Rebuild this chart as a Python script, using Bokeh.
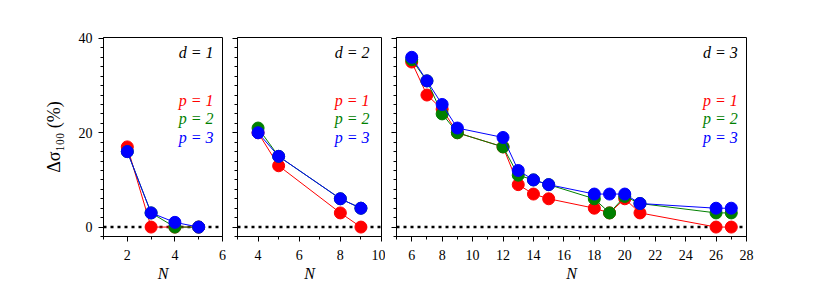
from bokeh.plotting import figure
from bokeh.layouts import row
from bokeh.models import Span, Label, SingleIntervalTicker, Range1d
from bokeh.embed import file_html
from bokeh.resources import INLINE

# ---- data ----
N1 = [2, 3, 4, 5]
d1_p1 = [17, 0, 0, 0]
d1_p2 = [16, 3, 0, 0]
d1_p3 = [16, 3, 1, 0]

N2 = [4, 5, 8, 9]
d2_p1 = [20, 13, 3, 0]
d2_p2 = [21, 15, 6, 4]
d2_p3 = [20, 15, 6, 4]

N3 = [6, 7, 8, 9, 12, 13, 14, 15, 18, 19, 20, 21, 26, 27]
d3_p1 = [35, 28, 25, 20, 17, 9, 7, 6, 4, 3, 6, 3, 0, 0]
d3_p2 = [35.5, 31, 24, 20, 17, 11, 10, 9, 6, 3, 6.5, 5, 3, 3]
d3_p3 = [36, 31, 26, 21, 19, 12, 10, 9, 7, 7, 7, 5, 4, 4]

series_labels = ["p = 1", "p = 2", "p = 3"]
panel_labels = ["d = 1", "d = 2", "d = 3"]
colors = ["#ff0000", "#008000", "#0000ff"]

FONT = "Liberation Serif"
H = 285
TOP = 37
FRAME_H = 199


def make_panel(N, ys, xr, dlabel, width, left, right, label_x, first):
    p = figure(width=width, height=H, x_range=Range1d(*xr), y_range=Range1d(-2, 40.2),
               output_backend="svg", toolbar_location=None,
               min_border_left=left, min_border_right=right,
               min_border_top=TOP, min_border_bottom=H - TOP - FRAME_H)
    p.background_fill_color = "white"
    p.border_fill_color = "white"
    p.outline_line_color = "black"
    p.outline_line_width = 1
    p.outline_line_alpha = 1
    p.grid.visible = False

    p.xaxis.ticker = SingleIntervalTicker(interval=2, num_minor_ticks=2)
    p.yaxis.ticker = SingleIntervalTicker(interval=20, num_minor_ticks=10)
    for ax in (p.xaxis, p.yaxis):
        ax.axis_line_color = "black"
        ax.major_tick_line_color = "black"
        ax.minor_tick_line_color = "black"
        ax.major_tick_out = 5
        ax.major_tick_in = 0
        ax.minor_tick_out = 3
        ax.minor_tick_in = 0
        ax.major_label_text_font = FONT
        ax.major_label_text_font_size = "14px"
        ax.major_label_text_color = "black"
        ax.axis_label_text_font = FONT
        ax.axis_label_text_font_size = "16px"
        ax.axis_label_text_color = "black"
    p.xaxis.major_label_standoff = 8
    p.xaxis.axis_label = "N"
    p.xaxis.axis_label_text_font_style = "italic"
    p.xaxis.axis_label_standoff = 2
    if first:
        p.yaxis.axis_label = "Δσ₁₀₀ (%)"
        p.yaxis.axis_label_text_font_style = "normal"
        p.yaxis.axis_label_text_font_size = "18px"
        p.yaxis.axis_label_standoff = 12
        p.yaxis.major_label_standoff = 6
    else:
        p.yaxis.major_label_overrides = {0: "", 20: "", 40: ""}
        p.yaxis.major_label_standoff = 0

    p.add_layout(Span(location=0, dimension="width", line_color="black",
                      line_width=2.5, line_dash="3 4", level="underlay"))

    for y, c in zip(ys, colors):
        p.line(N, y, line_color=c, line_width=1)
        p.scatter(N, y, size=12, fill_color=c, line_color=c, marker="circle")

    p.add_layout(Label(x=label_x, y=37, text=dlabel, text_align="right",
                       text_baseline="middle", text_font=FONT, text_font_size="16px",
                       text_font_style="italic", text_color="black"))
    for lab, c, yy in zip(series_labels, colors, [26.8, 23.0, 19.0]):
        p.add_layout(Label(x=label_x, y=yy, text=lab, text_align="right",
                           text_baseline="middle", text_font=FONT, text_font_size="16px",
                           text_font_style="italic", text_color=c))
    return p


p1 = make_panel(N1, [d1_p1, d1_p2, d1_p3], (1, 6), panel_labels[0],
                width=103 + 119 + 4, left=103, right=4, label_x=5.62, first=True)
p2 = make_panel(N2, [d2_p1, d2_p2, d2_p3], (3, 10), panel_labels[1],
                width=11 + 144 + 4, left=11, right=4, label_x=9.42, first=False)
p3 = make_panel(N3, [d3_p1, d3_p2, d3_p3], (5, 28), panel_labels[2],
                width=11 + 350 + 30, left=11, right=30, label_x=27.43, first=False)

layout = row(p1, p2, p3)
open("out.html", "w").write(file_html(layout, INLINE))
